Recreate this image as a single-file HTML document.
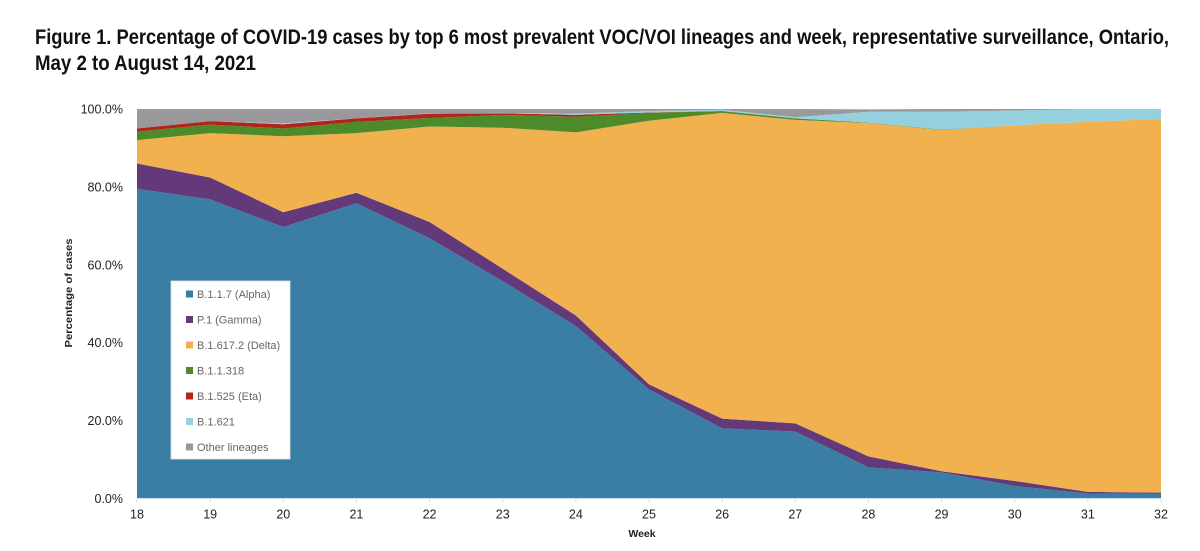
<!DOCTYPE html>
<html lang="en">
<head>
<meta charset="utf-8">
<title>Figure 1</title>
<style>
html,body{margin:0;padding:0;background:#fff;width:1200px;height:551px;overflow:hidden}
svg{display:block;font-family:"Liberation Sans",sans-serif}
</style>
</head>
<body>
<svg id="chart" width="1200" height="551" viewBox="0 0 1200 551" xmlns="http://www.w3.org/2000/svg">
  <text x="35" y="44" font-size="21" font-weight="bold" fill="#111" textLength="1134" lengthAdjust="spacingAndGlyphs">Figure 1. Percentage of COVID-19 cases by top 6 most prevalent VOC/VOI lineages and week, representative surveillance, Ontario,</text>
  <text x="35" y="70" font-size="21" font-weight="bold" fill="#111" textLength="221" lengthAdjust="spacingAndGlyphs">May 2 to August 14, 2021</text>
  <g id="areas"></g>
  <g id="axes"></g>
  <text transform="translate(72,293) rotate(-90)" text-anchor="middle" font-size="10.5" font-weight="bold" fill="#222" textLength="109" lengthAdjust="spacingAndGlyphs">Percentage of cases</text>
  <text x="642" y="537" text-anchor="middle" font-size="10.5" font-weight="bold" fill="#222">Week</text>
  <rect x="171" y="281" width="119" height="178" fill="#fff" stroke="#dfe3e6" stroke-width="0.8"></rect>
  <g id="legend"></g>
</svg>
<script>
const weeks = [18,19,20,21,22,23,24,25,26,27,28,29,30,31,32];
const yTicks = [0,20,40,60,80,100];
const seriesNames = ['B.1.1.7 (Alpha)','P.1 (Gamma)','B.1.617.2 (Delta)','B.1.1.318','B.1.525 (Eta)','B.1.621','Other lineages'];
const seriesColors = ['#3a7ea5','#63397a','#f1b14e','#4d8a2a','#b0241a','#95d0df','#9a989b'];
const alpha = [79.5,76.8,69.7,75.8,66.8,55.8,44.3,28.0,18.0,17.2,8.0,6.7,3.2,1.3,1.2];
const gamma = [6.5,5.6,3.8,2.7,4.2,3.2,2.7,1.3,2.5,2.1,2.8,0.3,1.3,0.4,0.3];
const delta = [6.0,11.4,19.5,15.3,24.5,36.2,47.0,67.7,78.5,77.9,85.6,87.6,91.3,95.0,96.0];
const b11318 = [2.2,2.2,2.0,2.9,2.2,3.3,4.0,2.0,0.5,0.4,0.1,0.1,0,0,0];
const eta = [0.8,0.9,1.1,0.9,1.1,0.4,0.5,0.1,0,0,0,0,0,0,0];
const b1621 = [0,0,0.2,0,0.1,0.1,0.3,0.4,0.3,0.3,2.8,4.6,3.8,3.3,2.5];
const other = [5.0,3.1,3.7,2.4,1.1,1.0,1.2,0.5,0.2,2.1,0.6,0.7,0.7,0,0];
const seriesValues = [alpha,gamma,delta,b11318,eta,b1621,other];

const NS = 'http://www.w3.org/2000/svg';
const plot = {left:137,right:1161,top:109,bottom:498.5};
function xScale(week){
  return plot.left + (week - weeks[0]) / (weeks[weeks.length-1] - weeks[0]) * (plot.right - plot.left);
}
function yScale(pct){
  return plot.bottom - pct / 100 * (plot.bottom - plot.top);
}
function make(tag, attrs){
  const el = document.createElementNS(NS, tag);
  for (const k in attrs) el.setAttribute(k, attrs[k]);
  return el;
}

const areas = document.getElementById('areas');
let base = weeks.map(function(){ return 0; });
seriesValues.forEach(function(vals, s){
  const top = base.map(function(b, i){ return b + vals[i]; });
  const upper = weeks.map(function(w, i){ return xScale(w).toFixed(2) + ',' + yScale(Math.min(top[i],100)).toFixed(2); });
  const lower = weeks.map(function(w, i){ return xScale(w).toFixed(2) + ',' + yScale(Math.min(base[i],100)).toFixed(2); }).reverse();
  const poly = make('polygon', {points: upper.concat(lower).join(' '), fill: seriesColors[s]});
  
  
  areas.appendChild(poly);
  base = top;
});

const axes = document.getElementById('axes');
yTicks.forEach(function(t){
  const label = make('text', {x:123, y:yScale(t)+4.5, 'text-anchor':'end', 'font-size':12.5, fill:'#222'});
  label.textContent = t.toFixed(1) + '%';
  
  
  axes.appendChild(label);
});
weeks.forEach(function(w){
  const tick = make('line', {x1:xScale(w), x2:xScale(w), y1:plot.bottom, y2:plot.bottom+4, stroke:'#d9d9d9', 'stroke-width':1});
  
  
  axes.appendChild(tick);
  const label = make('text', {x:xScale(w), y:plot.bottom+20, 'text-anchor':'middle', 'font-size':12.5, fill:'#222'});
  label.textContent = String(w);
  
  
  axes.appendChild(label);
});
const axisLine = make('line', {x1:plot.left, x2:plot.right, y1:plot.bottom, y2:plot.bottom, stroke:'#cfe3ea', 'stroke-width':1});


axes.appendChild(axisLine);

const legend = document.getElementById('legend');
seriesNames.forEach(function(name, i){
  const cy = 294 + i * 25.5;
  const sw = make('rect', {x:186, y:cy-3.5, width:7, height:7, fill:seriesColors[i]});
  
  
  legend.appendChild(sw);
  const t = make('text', {x:197, y:cy+4, 'font-size':11, fill:'#666'});
  t.textContent = name;
  
  
  legend.appendChild(t);
});
</script>
</body>
</html>
